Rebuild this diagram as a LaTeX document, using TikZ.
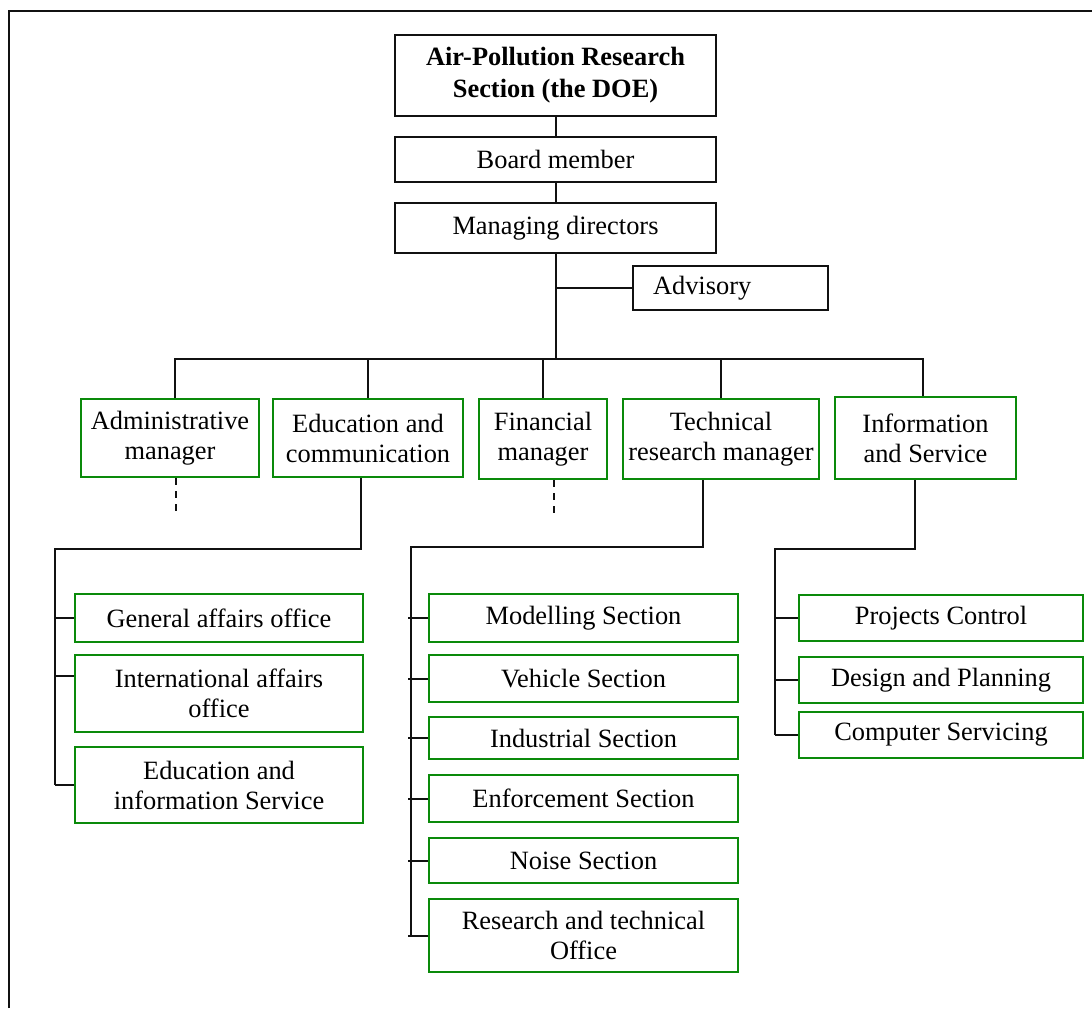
\documentclass[tikz,border=0pt]{standalone}
\usepackage{fontspec}
\setmainfont{Liberation Serif}
\usetikzlibrary{positioning,calc}
\definecolor{orgGreen}{HTML}{0A8A0A}
\definecolor{orgInk}  {HTML}{111111}

\begin{document}
\begin{tikzpicture}[x=0.5pt,y=-0.5pt,font=\fontsize{13.2}{15}\selectfont,
    head/.style={draw=orgInk,line width=1pt,inner sep=0pt,align=center},
    unit/.style={draw=orgGreen,line width=1pt,inner sep=0pt,align=center},
    link/.style={draw=orgInk,line width=1pt},
    gap/.style={link,dash pattern=on 3.5pt off 3pt}]
    \useasboundingbox (0,0) rectangle (1092,1008);
    \draw[orgInk,line width=1.1pt] (9,1008) -- (9,11) -- (1092,11);

    \node[head,minimum width=160.5pt,minimum height=40.5pt,
          font=\fontsize{13.2}{16}\selectfont\bfseries] (doe) at (555.5,75.5)
      {Air-Pollution Research\\Section (the DOE)};
    \node[head,minimum width=160.5pt,minimum height=22.5pt] (board) at (555.5,159.5) {Board member};
    \node[head,minimum width=160.5pt,minimum height=25pt] (mgr) at (555.5,228) {Managing directors};
    \node[head,minimum height=22pt,text width=77.5pt,inner xsep=10pt,align=left] (adv)
      at (730.5,288) {Advisory};

    \node[unit,minimum width=89pt,minimum height=39pt] (admin) at (170,438) {Administrative\\manager};
    \node[unit,minimum width=95pt,minimum height=39pt] (educ) at (368,438) {Education and\\communication};
    \node[unit,minimum width=64pt,minimum height=40pt] (fin) at (543,439) {Financial\\manager};
    \node[unit,minimum width=98pt,minimum height=40pt] (tech) at (721,439) {Technical\\research manager};
    \node[unit,minimum width=90.5pt,minimum height=41pt] (info) at (925.5,438) {Information\\and Service};

    \node[unit,minimum width=144pt,minimum height=24pt] (gen) at (219,618) {General affairs office};
    \node[unit,minimum width=144pt,minimum height=38.5pt] (intl) at (219,693.5) {International affairs\\office};
    \node[unit,minimum width=144pt,minimum height=38pt] (edinfo) at (219,785) {Education and\\information Service};

    \node[unit,minimum width=154.5pt,minimum height=24pt] (model) at (583.5,618) {Modelling Section};
    \node[unit,minimum width=154.5pt,minimum height=23.5pt] (veh) at (583.5,678.5) {Vehicle Section};
    \node[unit,minimum width=154.5pt,minimum height=21pt] (ind) at (583.5,738) {Industrial Section};
    \node[unit,minimum width=154.5pt,minimum height=23.5pt] (enf) at (583.5,798.5) {Enforcement Section};
    \node[unit,minimum width=154.5pt,minimum height=22.5pt] (noise) at (583.5,860.5) {Noise Section};
    \node[unit,minimum width=154.5pt,minimum height=36.5pt] (rto) at (583.5,935.5) {Research and technical\\Office};

    \node[unit,minimum width=142pt,minimum height=23pt] (proj) at (941,618) {Projects Control};
    \node[unit,minimum width=142pt,minimum height=23pt] (design) at (941,680) {Design and Planning};
    \node[unit,minimum width=142pt,minimum height=23pt] (comp) at (941,735) {Computer Servicing};

    \coordinate (bus) at (555,359);
    \coordinate (adminhook) at ([xshift=2.5pt]admin.north);
    \coordinate (infohook) at ([xshift=-1.25pt]info.north);
    \draw[link] (doe) -- (board);
    \draw[link] (board) -- (mgr);
    \draw[link] (mgr.south) -- (mgr.south |- bus);
    \draw[link] (mgr.south |- adv) -- (adv.west);
    \draw[link] (adminhook) |- (infohook |- bus) -- (infohook);
    \foreach \n in {educ,fin,tech}
      \draw[link] (\n.north) -- (\n.north |- bus);

    \draw[gap] ([xshift=3pt]admin.south) -- ++(0,38);
    \draw[gap] ([xshift=5.5pt]fin.south) -- ++(0,36);

    \coordinate (edbar) at (55,549);
    \coordinate (intlhook) at ([yshift=9pt]intl.west);
    \draw[link] ([xshift=-3.5pt]educ.south) |- (edbar) -- (edbar |- edinfo.west);
    \foreach \n in {gen,intlhook,edinfo}
      \draw[link] (edbar |- \n) -- (\n);

    \coordinate (tbar) at (411,547);
    \draw[link] ([xshift=-9pt]tech.south) |- (tbar) -- (tbar |- rto.west);
    \foreach \n in {model,veh,ind,enf,noise,rto}
      \draw[link] ($(tbar |- \n.west)+(-1.5pt,0)$) -- (\n.west);

    \coordinate (ibar) at (775,549);
    \draw[link] ([xshift=-5.25pt]info.south) |- (ibar) -- (ibar |- comp.west);
    \foreach \n in {proj,design,comp}
      \draw[link] (ibar |- \n.west) -- (\n.west);
  \end{tikzpicture}
\end{document}
